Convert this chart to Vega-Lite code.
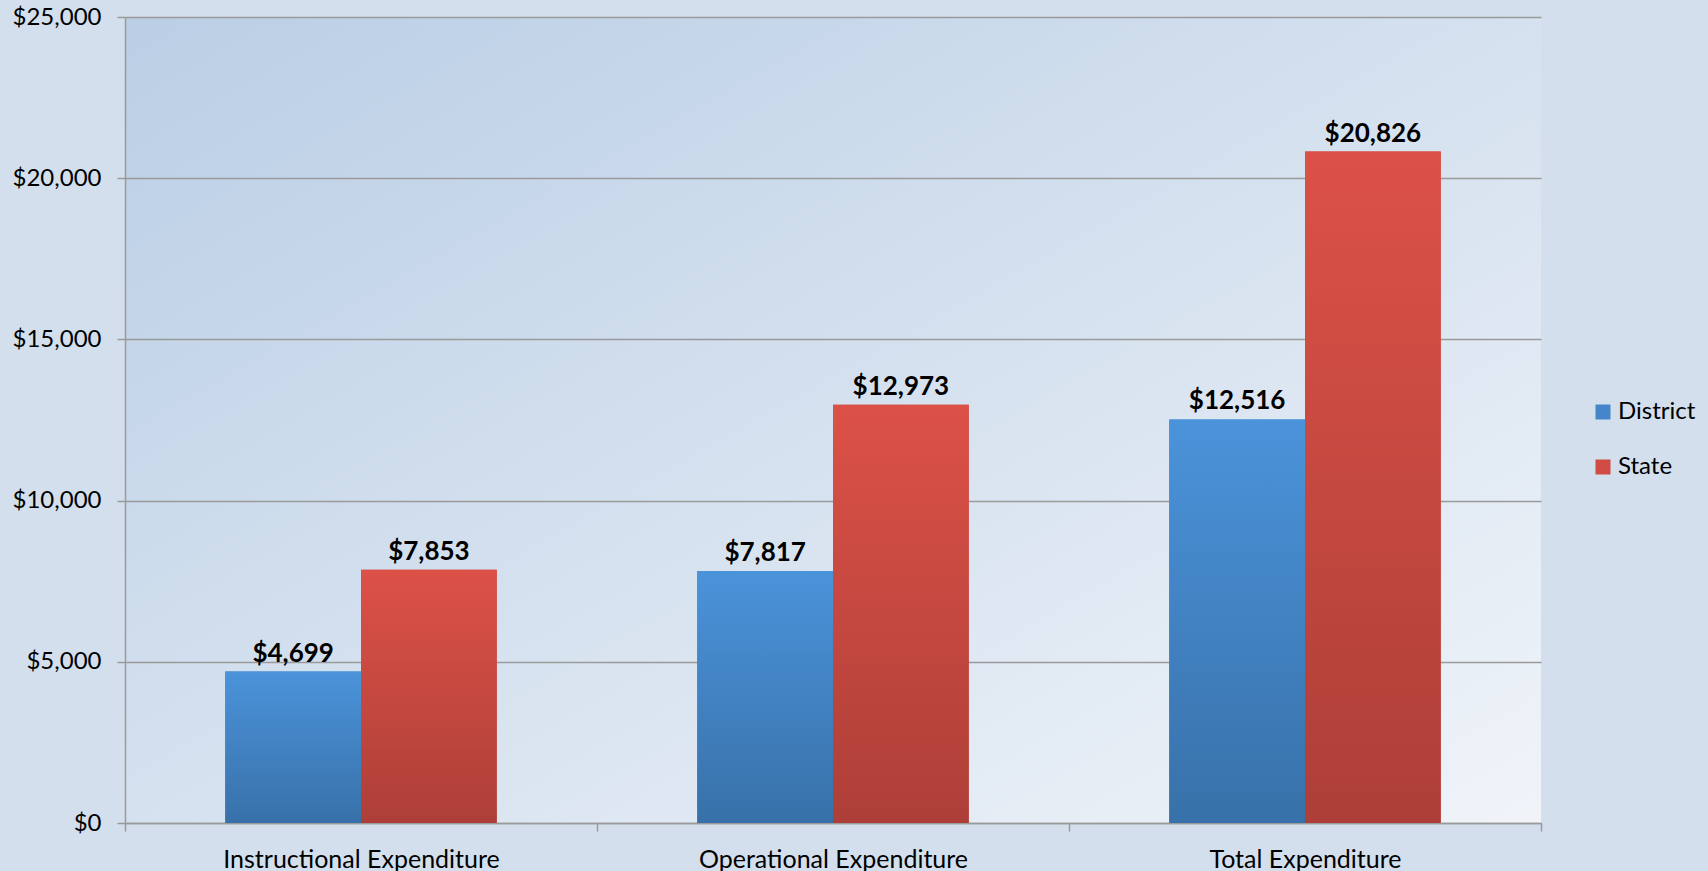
{
  "$schema": "https://vega.github.io/schema/vega-lite/v6.json",
  "width": 1416,
  "height": 806,
  "autosize": {"type": "none"},
  "padding": {"left": 125, "top": 17, "right": 167, "bottom": 48},
  "background": "#d3dfed",
  "config": {
    "font": "Lato",
    "view": {
      "stroke": null,
      "fill": {"gradient": "linear", "x1": 0, "y1": 0, "x2": 1, "y2": 1,
        "stops": [{"offset": 0, "color": "#bacee5"}, {"offset": 1, "color": "#f0f4f9"}]}
    }
  },
  "data": {
    "values": [
      {"category": "Instructional Expenditure", "series": "District", "value": 4699},
      {"category": "Instructional Expenditure", "series": "State", "value": 7853},
      {"category": "Operational Expenditure", "series": "District", "value": 7817},
      {"category": "Operational Expenditure", "series": "State", "value": 12973},
      {"category": "Total Expenditure", "series": "District", "value": 12516},
      {"category": "Total Expenditure", "series": "State", "value": 20826}
    ]
  },
  "encoding": {
    "x": {
      "field": "category", "type": "nominal",
      "sort": ["Instructional Expenditure", "Operational Expenditure", "Total Expenditure"],
      "scale": {"paddingInner": 0, "paddingOuter": 0},
      "axis": {
        "title": null, "labelAngle": 0, "tickBand": "extent", "labelLimit": 0,
        "domainColor": "#9a9a9a", "domainWidth": 1.5,
        "tickColor": "#9a9a9a", "tickWidth": 1.5, "tickSize": 8,
        "labelFont": "Lato", "labelFontSize": 25, "labelColor": "#000000", "labelPadding": 16
      }
    },
    "xOffset": {
      "field": "series", "type": "nominal", "sort": ["District", "State"],
      "scale": {"paddingInner": 0, "paddingOuter": 0.7385}
    },
    "y": {
      "field": "value", "type": "quantitative",
      "scale": {"domain": [0, 25000]},
      "axis": {
        "title": null, "values": [0, 5000, 10000, 15000, 20000, 25000], "format": "$,.0f",
        "grid": true, "gridColor": "#9a9a9a", "gridWidth": 1.5,
        "domainColor": "#9a9a9a", "domainWidth": 1.5,
        "tickColor": "#9a9a9a", "tickWidth": 1.5, "tickSize": 8,
        "labelFont": "Lato", "labelFontSize": 24, "labelColor": "#000000", "labelPadding": 16
      }
    }
  },
  "layer": [
    {
      "mark": {"type": "bar"},
      "encoding": {
        "color": {
          "field": "series", "type": "nominal", "sort": ["District", "State"],
          "scale": {"range": ["#4486c9", "#cf4b43"]},
          "legend": {
            "title": null, "orient": "none", "legendX": 1466, "legendY": 383,
            "symbolType": "square", "symbolSize": 225, "symbolStrokeWidth": 0,
            "labelFont": "Lato", "labelFontSize": 24, "labelColor": "#000000",
            "labelOffset": 3, "rowPadding": 31, "padding": 0
          }
        }
      }
    },
    {
      "mark": {"type": "bar"},
      "encoding": {
        "fill": {
          "condition": {
            "test": "datum.series === 'District'",
            "value": {"gradient": "linear", "x1": 0, "y1": 0, "x2": 0, "y2": 1,
              "stops": [{"offset": 0, "color": "#4b93da"}, {"offset": 1, "color": "#3871a9"}]}
          },
          "value": {"gradient": "linear", "x1": 0, "y1": 0, "x2": 0, "y2": 1,
            "stops": [{"offset": 0, "color": "#dc5147"}, {"offset": 1, "color": "#ad3f38"}]}
        }
      }
    },
    {
      "mark": {"type": "text", "baseline": "bottom", "dy": -5, "fontSize": 26, "fontWeight": "bold", "font": "Lato", "color": "#000000"},
      "encoding": {
        "text": {"field": "value", "type": "quantitative", "format": "$,.0f"}
      }
    }
  ]
}
